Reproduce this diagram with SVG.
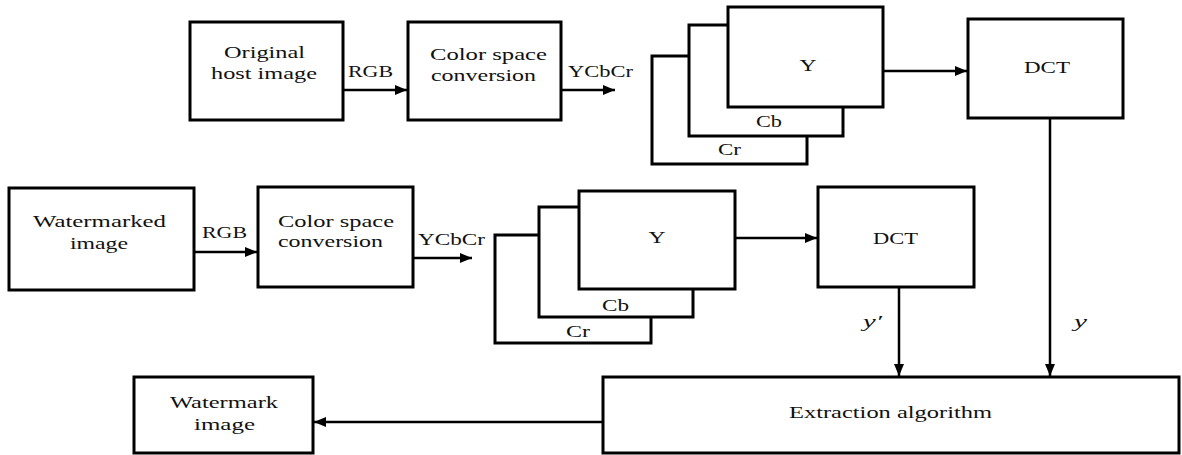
<svg xmlns="http://www.w3.org/2000/svg" width="1182" height="455" viewBox="0 0 1182 455">
<style>
.box{fill:#fff;stroke:#000;stroke-width:3}
.t{font-family:"Liberation Serif","DejaVu Serif","Times New Roman",serif;font-size:17px;fill:#111}
.i{font-style:italic}
.c{stroke:#000;stroke-width:2.5;fill:none;marker-end:url(#ah)}
</style>
<defs>
<marker id="ah" markerUnits="userSpaceOnUse" markerWidth="13" markerHeight="11" refX="12" refY="5" orient="auto">
<path d="M0,0 L12,5 L0,10 z" fill="#000"/>
</marker>
</defs>
<rect width="1182" height="455" fill="#fff"/>
<g id="connectors">
<line class="c" x1="343" y1="90" x2="407" y2="90"/>
<line class="c" x1="561" y1="90" x2="615" y2="90"/>
<line class="c" x1="883" y1="71" x2="967" y2="71"/>
<line class="c" x1="1050" y1="118" x2="1050" y2="376"/>
<line class="c" x1="194" y1="252" x2="257" y2="252"/>
<line class="c" x1="413" y1="258" x2="472" y2="258"/>
<line class="c" x1="735" y1="238" x2="817" y2="238"/>
<line class="c" x1="899" y1="287" x2="899" y2="376"/>
<line class="c" x1="603" y1="422" x2="314" y2="422"/>
</g>
<g id="n-original">
<rect class="box" x="190" y="22" width="153" height="98"/>
<text class="t" x="264.5" y="58" text-anchor="middle" textLength="81" lengthAdjust="spacingAndGlyphs">Original</text>
<text class="t" x="264" y="79" text-anchor="middle" textLength="106" lengthAdjust="spacingAndGlyphs">host image</text>
</g>
<g id="lbl-top">
<text class="t" x="348" y="77" textLength="45" lengthAdjust="spacingAndGlyphs">RGB</text>
<text class="t" x="568" y="77" textLength="65" lengthAdjust="spacingAndGlyphs">YCbCr</text>
</g>
<g id="n-csc-top">
<rect class="box" x="408" y="22" width="153" height="98"/>
<text class="t" x="430" y="60" textLength="117" lengthAdjust="spacingAndGlyphs">Color space</text>
<text class="t" x="431" y="81" textLength="105" lengthAdjust="spacingAndGlyphs">conversion</text>
</g>
<g id="n-stack-top">
<rect class="box" x="652" y="56" width="155" height="108"/>
<text class="t" x="718" y="155" textLength="23" lengthAdjust="spacingAndGlyphs">Cr</text>
<rect class="box" x="689" y="25" width="154" height="111"/>
<text class="t" x="756" y="127" textLength="26" lengthAdjust="spacingAndGlyphs">Cb</text>
<rect class="box" x="728" y="7" width="155" height="100"/>
<text class="t" x="808" y="71" text-anchor="middle" textLength="17" lengthAdjust="spacingAndGlyphs">Y</text>
</g>
<g id="n-dct-top">
<rect class="box" x="968" y="19" width="155" height="99"/>
<text class="t" x="1047" y="73" text-anchor="middle" textLength="46" lengthAdjust="spacingAndGlyphs">DCT</text>
</g>
<g id="n-watermarked">
<rect class="box" x="9" y="188" width="185" height="102"/>
<text class="t" x="99.5" y="227" text-anchor="middle" textLength="133" lengthAdjust="spacingAndGlyphs">Watermarked</text>
<text class="t" x="99" y="249" text-anchor="middle" textLength="58" lengthAdjust="spacingAndGlyphs">image</text>
</g>
<g id="lbl-bottom">
<text class="t" x="202" y="238" textLength="45" lengthAdjust="spacingAndGlyphs">RGB</text>
<text class="t" x="418" y="245" textLength="67" lengthAdjust="spacingAndGlyphs">YCbCr</text>
</g>
<g id="n-csc-bottom">
<rect class="box" x="258" y="187" width="155" height="100"/>
<text class="t" x="278" y="227" textLength="116" lengthAdjust="spacingAndGlyphs">Color space</text>
<text class="t" x="278" y="247" textLength="105" lengthAdjust="spacingAndGlyphs">conversion</text>
</g>
<g id="n-stack-bottom">
<rect class="box" x="495" y="235" width="156" height="108"/>
<text class="t" x="566" y="337" textLength="24" lengthAdjust="spacingAndGlyphs">Cr</text>
<rect class="box" x="539" y="207" width="154" height="110"/>
<text class="t" x="602" y="311" textLength="27" lengthAdjust="spacingAndGlyphs">Cb</text>
<rect class="box" x="579" y="191" width="156" height="98"/>
<text class="t" x="657" y="243" text-anchor="middle" textLength="17" lengthAdjust="spacingAndGlyphs">Y</text>
</g>
<g id="n-dct-bottom">
<rect class="box" x="818" y="187" width="156" height="100"/>
<text class="t" x="895.5" y="244" text-anchor="middle" textLength="45" lengthAdjust="spacingAndGlyphs">DCT</text>
</g>
<g id="lbl-y">
<text class="t i" x="863" y="327" textLength="19" lengthAdjust="spacingAndGlyphs">y′</text>
<text class="t i" x="1074" y="327" textLength="13" lengthAdjust="spacingAndGlyphs">y</text>
</g>
<g id="n-watermark">
<rect class="box" x="134" y="377" width="179" height="76"/>
<text class="t" x="224" y="408" text-anchor="middle" textLength="108" lengthAdjust="spacingAndGlyphs">Watermark</text>
<text class="t" x="224.5" y="430" text-anchor="middle" textLength="61" lengthAdjust="spacingAndGlyphs">image</text>
</g>
<g id="n-extraction">
<rect class="box" x="603" y="377" width="576" height="76"/>
<text class="t" x="890.5" y="418" text-anchor="middle" textLength="203" lengthAdjust="spacingAndGlyphs">Extraction algorithm</text>
</g>
</svg>
